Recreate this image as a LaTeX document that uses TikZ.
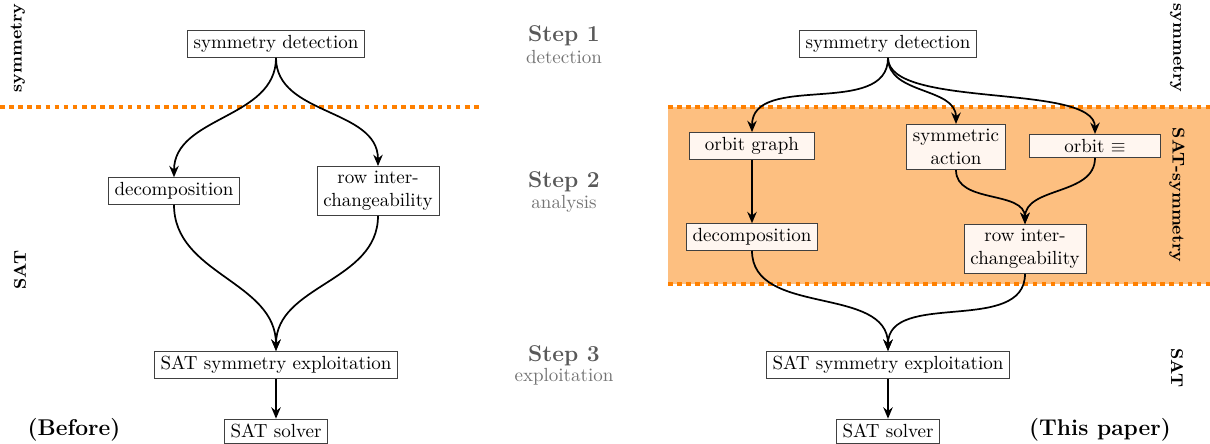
\documentclass[tikz,border=0pt]{standalone}
\usepackage{tikz}
\usetikzlibrary{calc}
\usetikzlibrary{positioning}
\usetikzlibrary{arrows.meta}

\definecolor{satorange}{RGB}{255,128,0}
\definecolor{bandfill}{RGB}{253,191,128}
\definecolor{boxfill}{RGB}{255,246,240}

\begin{document}
\begin{tikzpicture}[%
  >={Stealth[length=6pt,width=5pt,inset=2pt]},
  x=0.5265pt, y=-0.5265pt,
  box/.style={draw=black!75, fill=white, inner xsep=3.3pt, inner ysep=2.6pt,
    align=center, font=\normalsize},
  inbox/.style={box, fill=boxfill},
  flow/.style={->, thick, line width=0.9pt},
  sep/.style={satorange, line width=2.2pt, dash pattern=on 2.4pt off 2.4pt},
  side/.style={font=\small\bfseries},
  stepname/.style={font=\large\bfseries, text=black!65},
  stepsub/.style={text=black!55},
]

  \useasboundingbox (0,0) rectangle (1210,444);

  % band of the new pipeline
  \fill[bandfill] (668,107) rectangle (1210,284);
  \draw[sep] (668,107) -- (1210,107);
  \draw[sep] (668,284) -- (1210,284);
  \draw[sep] (0,107) -- (483,107);

  % steps in the middle
  \node[stepname] (s1) at (564,36) {Step 1};
  \node[stepsub] (s1b) at (564,57) {detection};
  \node[stepname] (s2) at (564,182) {Step 2};
  \node[stepsub] (s2b) at (564,204) {analysis};
  \node[stepname] (s3) at (564,356) {Step 3};
  \node[stepsub] (s3b) at (564,377) {exploitation};

  % before
  \node[box] (ldet) at (276,44) {symmetry detection};
  \node[box] (ldec) at (174,191) {decomposition};
  \node[box] (lrow) at (378,191) {row inter-\\changeability};
  \node[box] (lexp) at (276,365) {SAT symmetry exploitation};
  \node[box] (lsol) at (276,431) {SAT solver};
  \node[font=\large\bfseries] (before) at (74,430) {(Before)};
  \node[side, rotate=90] (lsym) at (18,48) {symmetry};
  \node[side, rotate=90] (lsat) at (20,270) {SAT};

  \draw[flow] (ldet.south) to[out=-90, in=90] (ldec.north);
  \draw[flow] (ldet.south) to[out=-90, in=90] (lrow.north);
  \draw[flow] (ldec.south) to[out=-90, in=90] (lexp.north);
  \draw[flow] (lrow.south) to[out=-90, in=90] (lexp.north);
  \draw[flow] (lexp) -- (lsol);

  % this paper
  \node[box] (rdet) at (888,44) {symmetry detection};
  \node[inbox, minimum width=66pt] (rorb) at (752,146) {orbit graph};
  \node[inbox] (ract) at (956,147) {symmetric\\action};
  \node[inbox, minimum width=69pt] (requ) at (1095,146) {orbit $\equiv$};
  \node[inbox, minimum width=66pt] (rdec) at (752,237) {decomposition};
  \node[inbox] (rrow) at (1025,249) {row inter-\\changeability};
  \node[box] (rexp) at (888,365) {SAT symmetry exploitation};
  \node[box] (rsol) at (888,431) {SAT solver};
  \node[font=\large\bfseries] (paper) at (1100,430) {(This paper)};
  \node[side, rotate=-90] (rsym) at (1177,48) {symmetry};
  \node[side, rotate=-90] (rband) at (1177,195) {SAT-symmetry};
  \node[side, rotate=-90] (rsat) at (1177,368) {SAT};

  \draw[flow] (rdet.south) to[out=-90, in=90] (rorb.north);
  \draw[flow] (rdet.south) to[out=-90, in=90] (ract.north);
  \draw[flow] (rdet.south) to[out=-90, in=90, looseness=0.6] (requ.north);
  \draw[flow] (rorb) -- (rdec);
  \draw[flow] (ract.south) to[out=-90, in=90] (rrow.north);
  \draw[flow] (requ.south) to[out=-90, in=90] (rrow.north);
  \draw[flow] (rdec.south) to[out=-90, in=90] (rexp.north);
  \draw[flow] (rrow.south) to[out=-90, in=90] (rexp.north);
  \draw[flow] (rexp) -- (rsol);

\end{tikzpicture}
\end{document}
